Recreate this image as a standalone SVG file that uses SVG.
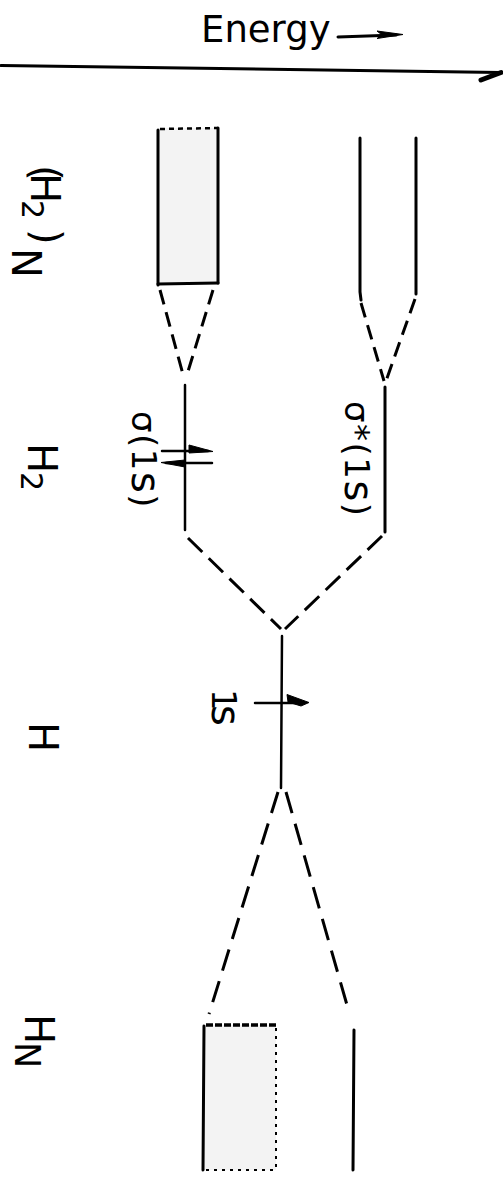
<svg xmlns="http://www.w3.org/2000/svg" width="503" height="1187" viewBox="0 0 503 1187">
<defs>
<style>
.ln{stroke:#000;stroke-width:3;fill:none;stroke-linecap:round}
.thin{stroke:#000;stroke-width:2.5;fill:none;stroke-linecap:round}
.dsh{stroke:#000;stroke-width:3;fill:none;stroke-linecap:butt}
.d1{stroke-dasharray:15 8}
.d2{stroke-dasharray:20 9}
.d3{stroke-dasharray:22 11}
.dot{stroke:#000;stroke-width:2;fill:none;stroke-dasharray:3 5}
.band{fill:#f3f3f3}
.t{font-family:"DejaVu Sans","Liberation Sans",sans-serif;fill:#000}
.head{fill:#000;stroke:#000;stroke-width:1;stroke-linejoin:round}
</style>
</defs>
<rect width="503" height="1187" fill="#fff"/>

<g id="energy-axis">
<text class="t" x="201" y="42" font-size="37">Energy</text>
<line class="ln" x1="338" y1="37" x2="396" y2="35"/>
<polygon class="head" points="377,31 403,34.5 377,38.5 382,35"/>
<line class="ln" x1="1" y1="65.5" x2="500" y2="72.5" stroke-width="3.5"/>
<line x1="481" y1="80" x2="501" y2="72.5" stroke="#000" stroke-width="5" stroke-linecap="round"/>
</g>

<g id="labels">
<text id="label-NH2" class="t" transform="rotate(90)" font-size="40"><tspan x="248" y="-12">N</tspan><tspan x="165" y="-32">(</tspan><tspan x="173" y="-31">H</tspan><tspan x="200" y="-22" font-size="30">2</tspan><tspan x="229" y="-33">)</tspan></text>
<text id="label-H2" class="t" transform="rotate(90)" font-size="40"><tspan x="443" y="-28">H</tspan><tspan x="472" y="-21" font-size="30">2</tspan></text>
<text id="label-H" class="t" transform="rotate(90)" font-size="40" x="722" y="-29">H</text>
<text id="label-NH" class="t" transform="rotate(90)" font-size="35"><tspan x="1042" y="-15">N</tspan><tspan x="1014" y="-25" font-size="40">H</tspan></text>
</g>

<g id="band-NH2">
<rect class="band" x="158" y="128" width="60" height="155"/>
<line class="ln" x1="158" y1="130" x2="158" y2="285"/>
<line class="ln" x1="218" y1="128" x2="218" y2="283" stroke-width="3.5"/>
<line class="ln" x1="158" y1="284" x2="218" y2="283"/>
<line x1="160" y1="129" x2="218" y2="128" stroke="#000" stroke-width="2.5" stroke-dasharray="5 4"/>
</g>

<g id="band-NH2-upper">
<polyline class="ln" points="360,138 360,292 361,300"/>
<line class="ln" x1="416" y1="138" x2="416" y2="294"/>
</g>

<g id="level-sigma">
<line class="thin" x1="185" y1="385" x2="185" y2="530"/>
<line class="thin" x1="162" y1="451" x2="208" y2="451"/>
<polygon class="head" points="213,451.5 189,445 189,453"/>
<line class="thin" x1="166" y1="463" x2="212" y2="463"/>
<polygon class="head" points="161,462.5 185,460 185,467"/>
<text class="t" transform="rotate(90)" font-size="34" x="411" y="-132" letter-spacing="1.5">σ(1<tspan font-size="40">s</tspan>)</text>
</g>

<g id="level-sigma-star">
<line class="ln" x1="385" y1="387" x2="385" y2="532"/>
<text class="t" transform="rotate(90)" font-size="34" x="401" y="-345" letter-spacing="1.5">σ*(1<tspan font-size="40">s</tspan>)</text>
</g>

<g id="level-H1s">
<line class="thin" x1="282" y1="636" x2="281" y2="788"/>
<line class="thin" x1="255" y1="703" x2="303" y2="703"/>
<polygon class="head" points="287,694.5 309,702.5 301,706 288,702"/>
<text class="t" transform="rotate(90)" font-size="34" y="-212"><tspan x="689">1</tspan><tspan x="705" font-size="40">s</tspan></text>
</g>

<g id="band-NH">
<rect class="band" x="204" y="1025" width="72" height="145"/>
<line class="ln" x1="204" y1="1026" x2="203" y2="1170" stroke-width="3.5"/>
<line x1="206" y1="1025" x2="277" y2="1025" stroke="#000" stroke-width="3.5" stroke-dasharray="7 2"/>
<line class="dot" x1="276" y1="1028" x2="276" y2="1170"/>
<line class="dot" x1="206" y1="1170" x2="276" y2="1170"/>
</g>

<g id="band-NH-upper">
<line class="ln" x1="354" y1="1030" x2="353" y2="1170"/>
</g>

<g id="connectors">
<line class="dsh d1" x1="160" y1="290" x2="184" y2="378"/>
<line class="dsh d1" x1="213" y1="290" x2="186" y2="378"/>
<line class="dsh d1" x1="361" y1="303" x2="384" y2="381"/>
<line class="dsh d1" x1="415" y1="299" x2="386" y2="381"/>
<line class="dsh d2" x1="188" y1="538" x2="281" y2="629"/>
<line class="dsh d2" x1="382" y1="536" x2="285" y2="629"/>
<line class="dsh d3" x1="278" y1="792" x2="209" y2="1014"/>
<line class="dsh d3" x1="286" y1="792" x2="349" y2="1012"/>
</g>
</svg>
